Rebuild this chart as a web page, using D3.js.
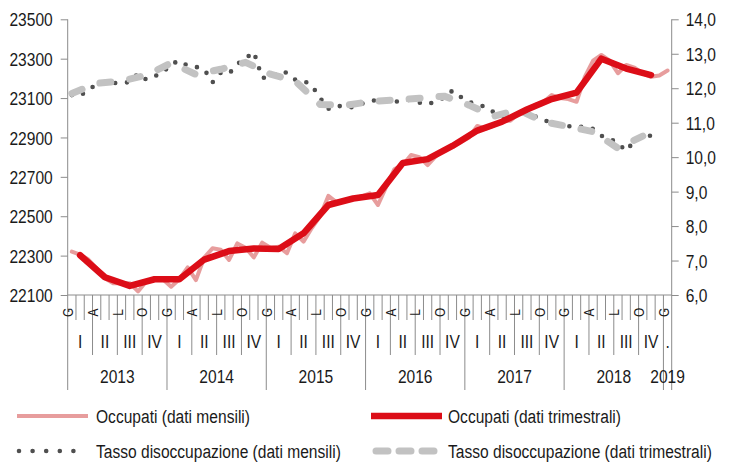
<!DOCTYPE html>
<html>
<head>
<meta charset="utf-8">
<script src="https://cdn.jsdelivr.net/npm/d3@7"></script>
<style>
  body { margin: 0; background: #fff; }
  text { font-family: "Liberation Sans", Arial, sans-serif; fill: #1a1a1a; }
</style>
</head>
<body>
<div id="chart"></div>
<script>
const width = 733;
const height = 463;

// categories
const years = ["2013", "2014", "2015", "2016", "2017", "2018", "2019"];
const monthLetters = ["G", "F", "M", "A", "M", "G", "L", "A", "S", "O", "N", "D"];
const quarterLabels = ["I", "II", "III", "IV"];

// Occupati, migliaia (gen 2013 - gen 2019)
const occupatiMensili = [
  22320, 22305, 22280, 22235, 22185, 22160, 22160, 22160, 22118, 22170, 22185, 22180,
  22142, 22180, 22240, 22176, 22290, 22337, 22330, 22278, 22362, 22340, 22291, 22366,
  22340, 22345, 22312, 22413, 22371, 22440, 22500, 22603, 22570, 22580, 22590, 22600,
  22616, 22557, 22650, 22740, 22760, 22811, 22800, 22760, 22805, 22840, 22855, 22875,
  22900, 22958, 22945, 22960, 22985, 22985, 23020, 23045, 23065, 23080, 23115, 23100,
  23095, 23081, 23208, 23290, 23319, 23290, 23226, 23268, 23255, 23225, 23208, 23215,
  23240
];
// Occupati, medie trimestrali (I 2013 - IV 2018)
const occupatiTrimestrali = [
  22302, 22190, 22146, 22180,
  22180, 22280, 22323, 22336,
  22334, 22413, 22557, 22590,
  22608, 22770, 22790, 22857,
  22935, 22980, 23042, 23095,
  23128, 23300, 23250, 23217
];
// Tasso di disoccupazione, % (gen 2013 - dic 2018)
const tassoMensili = [
  11.80, 11.78, 11.95, 12.12, 12.15, 12.15, 12.15, 12.18, 12.42, 12.25, 12.35, 12.45,
  12.70, 12.80, 12.65, 12.62, 12.55, 12.17, 12.45, 12.42, 12.70, 12.87, 13.05, 12.30,
  12.32, 12.48, 12.45, 12.25, 12.22, 12.08, 11.72, 11.40, 11.50, 11.45, 11.45, 11.55,
  11.61, 11.68, 11.60, 11.60, 11.65, 11.66, 11.58, 11.53, 11.62, 11.73, 11.93, 11.75,
  11.60, 11.53, 11.46, 11.30, 11.20, 11.15, 11.25, 11.35, 11.18, 11.08, 11.00, 10.92,
  10.90, 10.88, 10.88, 10.82, 10.62, 10.55, 10.40, 10.18, 10.48, 10.62, 10.62, 10.47
];
// Tasso di disoccupazione, trimestrale
const tassoTrimestrali = [
  11.85, 12.14, 12.21, 12.38,
  12.73, 12.40, 12.55, 12.75,
  12.41, 12.21, 11.53, 11.50,
  11.61, 11.66, 11.71, 11.77,
  11.51, 11.19, 11.37, 11.03,
  10.89, 10.74, 10.26, 10.61
];

const leftTicks = [22100, 22300, 22500, 22700, 22900, 23100, 23300, 23500];
const rightTicks = [6, 7, 8, 9, 10, 11, 12, 13, 14];

// month categories: all of 2013-2018 plus gennaio 2019
const months = [];
years.forEach((y, yi) => {
  monthLetters.forEach((m, mi) => {
    if (yi < years.length - 1 || mi === 0) months.push({ year: y, letter: m, mi: mi });
  });
});

const plotLeft = 67.7, plotRight = 671.7, plotTop = 19.3, plotBottom = 295;
const axisColor = "#8c8c8c";
const squeeze = 0.82; // the original uses a narrow face

const svg = d3.select("#chart")
  .append("svg")
  .attr("width", width)
  .attr("height", height);

const x = d3.scaleBand()
  .domain(d3.range(months.length))
  .range([plotLeft, plotRight]);
const cx = i => x(i) + x.bandwidth() / 2;

const yL = d3.scaleLinear().domain([22100, 23500]).range([plotBottom, plotTop]);
const yR = d3.scaleLinear().domain([6, 14]).range([plotBottom, plotTop]);

const it = d3.formatLocale({ decimal: ",", thousands: ".", grouping: [3], currency: ["", "€"] });

// left axis
svg.append("g")
  .attr("transform", `translate(${plotLeft},0)`)
  .call(d3.axisLeft(yL).tickValues(leftTicks).tickFormat(d3.format("d")).tickSize(7).tickPadding(8).tickSizeOuter(0))
  .call(g => g.select(".domain").remove())
  .call(g => g.selectAll("line").attr("stroke", axisColor))
  .call(g => g.selectAll("text").attr("font-size", 19).attr("dy", "0.35em"));

// right axis
svg.append("g")
  .attr("transform", `translate(${plotRight},0)`)
  .call(d3.axisRight(yR).tickValues(rightTicks).tickFormat(it.format(".1f")).tickSize(7).tickPadding(7).tickSizeOuter(0))
  .call(g => g.select(".domain").remove())
  .call(g => g.selectAll("line").attr("stroke", axisColor))
  .call(g => g.selectAll("text").attr("font-size", 19).attr("dy", "0.35em"));

// axis lines
const axes = svg.append("g").attr("stroke", axisColor).attr("stroke-width", 1);
axes.append("line").attr("x1", plotLeft).attr("x2", plotLeft).attr("y1", plotTop).attr("y2", 390);
axes.append("line").attr("x1", plotRight).attr("x2", plotRight).attr("y1", plotTop).attr("y2", 390);
axes.append("line").attr("x1", plotLeft).attr("x2", plotRight).attr("y1", plotBottom).attr("y2", plotBottom);

// category separators: months, quarters, years
axes.selectAll(".sep")
  .data(d3.range(1, months.length))
  .join("line")
  .attr("x1", i => x(i)).attr("x2", i => x(i))
  .attr("y1", plotBottom)
  .attr("y2", i => months[i].mi === 0 ? 390 : (months[i].mi % 3 === 0 ? 355 : 320));

// month letters (every third month)
svg.append("g").selectAll("text")
  .data(months.map((d, i) => ({ ...d, i })).filter(d => d.mi % 3 === 0))
  .join("text")
  .attr("transform", d => `translate(${x(d.i)},312.5) rotate(-90)`)
  .attr("text-anchor", "middle")
  .attr("dy", "0.36em")
  .attr("font-size", 14.5)
  .text(d => d.letter);

// quarter labels
const quarters = [];
for (let s = 0; s < months.length; s += 3) {
  const e = Math.min(s + 3, months.length);
  quarters.push({ s, e, label: e - s === 3 ? quarterLabels[months[s].mi / 3] : "." });
}
svg.append("g").selectAll("text")
  .data(quarters)
  .join("text")
  .attr("x", d => (x(d.s) + (d.e < months.length ? x(d.e) : plotRight)) / 2)
  .attr("y", 348.4)
  .attr("text-anchor", "middle")
  .attr("font-size", 19)
  .text(d => d.label);

// year labels
svg.append("g").selectAll("text")
  .data(years)
  .join("text")
  .attr("x", (y, yi) => {
    const s = yi * 12, e = Math.min(s + 12, months.length);
    return (x(s) + (e < months.length ? x(e) : plotRight)) / 2;
  })
  .attr("y", 383.4)
  .attr("text-anchor", "middle")
  .attr("font-size", 19)
  .text(d => d);

// series
const lineTassoM = d3.line().x((d, i) => cx(i)).y(d => yR(d));
const lineTassoT = d3.line().x((d, i) => cx(i * 3)).y(d => yR(d));
const lineOccM = d3.line().x((d, i) => cx(i)).y(d => yL(d));
const lineOccT = d3.line().x((d, i) => cx(i * 3 + 1)).y(d => yL(d));

const styles = {
  occM: { stroke: "#e38c8c", width: 4, opacity: 0.85, dash: null },
  occT: { stroke: "#dc0d17", width: 6.5, opacity: 1, dash: null },
  tasM: { stroke: "#4f4f4f", width: 4.6, opacity: 1, dash: "0 11.8" },
  tasT: { stroke: "#c2c2c2", width: 7, opacity: 1, dash: "11 19" }
};

function drawLine(data, gen, st) {
  svg.append("path")
    .datum(data)
    .attr("d", gen)
    .attr("fill", "none")
    .attr("stroke", st.stroke)
    .attr("stroke-width", st.width)
    .attr("stroke-opacity", st.opacity)
    .attr("stroke-linejoin", "round")
    .attr("stroke-linecap", "round")
    .attr("stroke-dasharray", st.dash);
}

drawLine(tassoMensili, lineTassoM, styles.tasM);
drawLine(tassoTrimestrali, lineTassoT, styles.tasT);
drawLine(occupatiMensili, lineOccM, styles.occM);
drawLine(occupatiTrimestrali, lineOccT, styles.occT);

// legend
const legendItems = [
  { label: "Occupati (dati mensili)", st: styles.occM, x: 17, y: 416, len: 71, dash: null },
  { label: "Occupati (dati trimestrali)", st: styles.occT, x: 371, y: 416, len: 71, dash: null },
  { label: "Tasso disoccupazione (dati mensili)", st: styles.tasM, x: 17, y: 451, len: 69, dash: "0 13.6" },
  { label: "Tasso disoccupazione (dati trimestrali)", st: styles.tasT, x: 374, y: 451, len: 63, dash: "12 11" }
];

const legend = svg.append("g").selectAll("g")
  .data(legendItems)
  .join("g");

legend.append("line")
  .attr("x1", d => d.x + (d.st.dash ? 2 : 0))
  .attr("x2", d => d.x + d.len)
  .attr("y1", d => d.y).attr("y2", d => d.y)
  .attr("stroke", d => d.st.stroke)
  .attr("stroke-width", d => d.st.width)
  .attr("stroke-opacity", d => d.st.opacity)
  .attr("stroke-linecap", d => d.st.dash ? "round" : "butt")
  .attr("stroke-dasharray", d => d.dash);

legend.append("text")
  .attr("x", d => d.x < 100 ? 96 : 448)
  .attr("y", d => d.y + 6.8)
  .attr("font-size", 19)
  .text(d => d.label);

// squeeze every text horizontally, around its own anchor point
svg.selectAll("text").each(function () {
  const t = d3.select(this);
  const tx = +t.attr("x") || 0, ty = +t.attr("y") || 0;
  const prev = t.attr("transform") || "";
  t.attr("transform", `${prev} translate(${tx},${ty}) scale(${squeeze},1)`)
    .attr("x", 0).attr("y", 0);
});
</script>
</body>
</html>
